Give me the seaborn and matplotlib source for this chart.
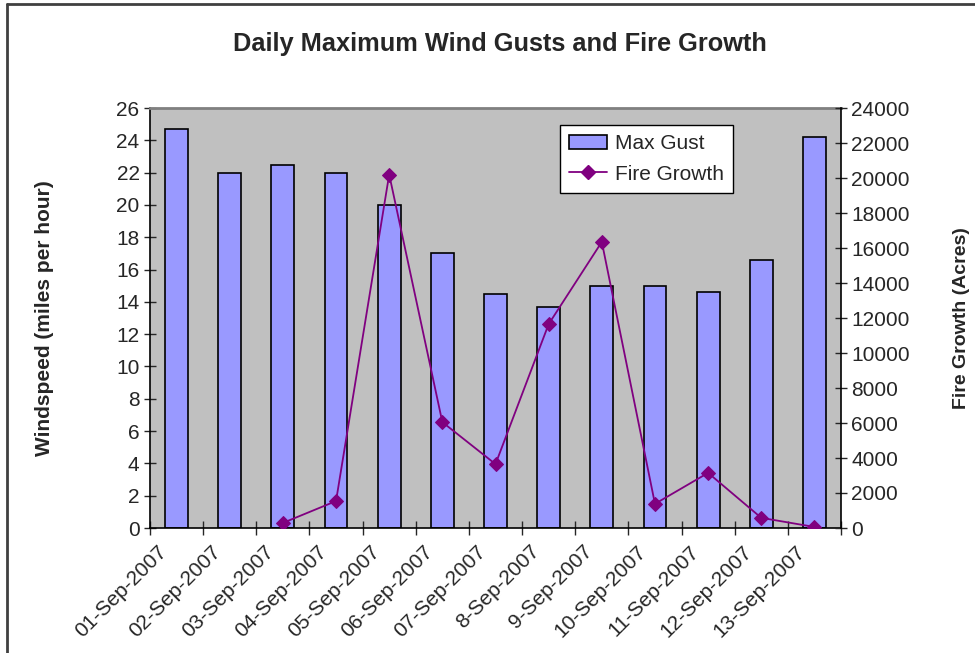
import numpy as np
import pandas as pd
import matplotlib
matplotlib.use('Agg')
import matplotlib.pyplot as plt
import matplotlib.transforms as mtransforms
from matplotlib.lines import Line2D
from matplotlib.patches import Patch
import seaborn as sns

# dados do gráfico
datas = ['01-Sep-2007', '02-Sep-2007', '03-Sep-2007', '04-Sep-2007', '05-Sep-2007',
         '06-Sep-2007', '07-Sep-2007', '8-Sep-2007', '9-Sep-2007', '10-Sep-2007',
         '11-Sep-2007', '12-Sep-2007', '13-Sep-2007']
rajada_max = [24.7, 22.0, 22.5, 22.0, 20.0, 17.0, 14.5, 13.7, 15.0, 15.0, 14.6, 16.6, 24.2]
crescimento_fogo = [np.nan, np.nan, 290, 1540, 20200, 6050, 3650, 11650, 16350,
                    1380, 3150, 580, 60]

df = pd.DataFrame({'data': datas, 'rajada': rajada_max, 'fogo': crescimento_fogo})
df['pos'] = np.arange(len(df))

sns.set_style('white')
plt.rcParams['font.family'] = ['Liberation Sans', 'DejaVu Sans']

fig = plt.figure(figsize=(9.75, 6.53), dpi=100)
ax = fig.add_axes([150 / 975, 1 - 528 / 653, (841 - 150) / 975, 420 / 653])
ax.set_facecolor('#C0C0C0')

sns.barplot(x='pos', y='rajada', data=df, ax=ax, color='#9999FF', saturation=1,
            width=0.43, edgecolor='black', linewidth=1.2, native_scale=True)
ax.set_xlim(-0.5, len(df) - 0.5)
ax.set_ylim(0, 26)
ax.set_yticks(range(0, 27, 2))
ax.tick_params(axis='y', labelsize=15, direction='inout', length=8, width=1, left=True)

# ticks entre as categorias, rótulos no centro
ax.set_xticks(np.arange(len(df) + 1) - 0.5)
ax.set_xticklabels([])
ax.tick_params(axis='x', which='major', direction='inout', length=10, width=1, bottom=True)
ax.set_xticks(df['pos'], minor=True)
ax.set_xticklabels(df['data'], minor=True, rotation=45, ha='right',
                   rotation_mode='anchor', fontsize=15)
ax.tick_params(axis='x', which='minor', length=0, pad=10)
desloc = mtransforms.ScaledTranslation(-19 / 100, 0, fig.dpi_scale_trans)
for rot in ax.get_xticklabels(minor=True):
    rot.set_transform(rot.get_transform() + desloc)

ax.set_xlabel('')
ax.set_ylabel('Windspeed (miles per hour)', fontsize=15, fontweight='bold', labelpad=45)

for lado in ['left', 'bottom']:
    ax.spines[lado].set_color('black')
    ax.spines[lado].set_linewidth(1.2)
ax.spines['top'].set_color('#808080')
ax.spines['top'].set_linewidth(2)
ax.spines['right'].set_visible(False)

ax2 = ax.twinx()
sns.lineplot(x='pos', y='fogo', data=df, ax=ax2, color='#800080', marker='D',
             markersize=7, markeredgecolor='#800080', linewidth=1.3)
ax2.set_ylim(0, 24000)
ax2.set_yticks(range(0, 24001, 2000))
ax2.tick_params(axis='y', labelsize=15, direction='inout', length=8, width=1, right=True)
ax2.set_ylabel('Fire Growth (Acres)', fontsize=14, fontweight='bold', labelpad=31)
for lado in ['left', 'bottom', 'top']:
    ax2.spines[lado].set_visible(False)
ax2.spines['right'].set_color('black')
ax2.spines['right'].set_linewidth(1.2)
ax2.set_xlabel('')

handles = [Patch(facecolor='#9999FF', edgecolor='black', linewidth=1.2),
           Line2D([], [], color='#800080', marker='D', markersize=7, linewidth=1.3)]
leg = ax2.legend(handles, ['Max Gust', 'Fire Growth'], loc='upper left',
                 bbox_to_anchor=(0.593, 0.96), fontsize=15, frameon=True,
                 fancybox=False, framealpha=1, edgecolor='black', handlelength=1.8,
                 handletextpad=0.4, borderpad=0.45, labelspacing=0.55, borderaxespad=0)
leg.get_frame().set_linewidth(1)

fig.suptitle('Daily Maximum Wind Gusts and Fire Growth', x=500 / 975, y=1 - 32 / 653,
             fontsize=18.3, fontweight='bold')

# moldura do gráfico
fig.add_artist(Line2D([7 / 975, 7 / 975], [0, 1 - 4 / 653], color='#404040', linewidth=2))
fig.add_artist(Line2D([7 / 975, 1], [1 - 4 / 653, 1 - 4 / 653], color='#404040', linewidth=2))

fig.savefig('out.png', dpi=100)
